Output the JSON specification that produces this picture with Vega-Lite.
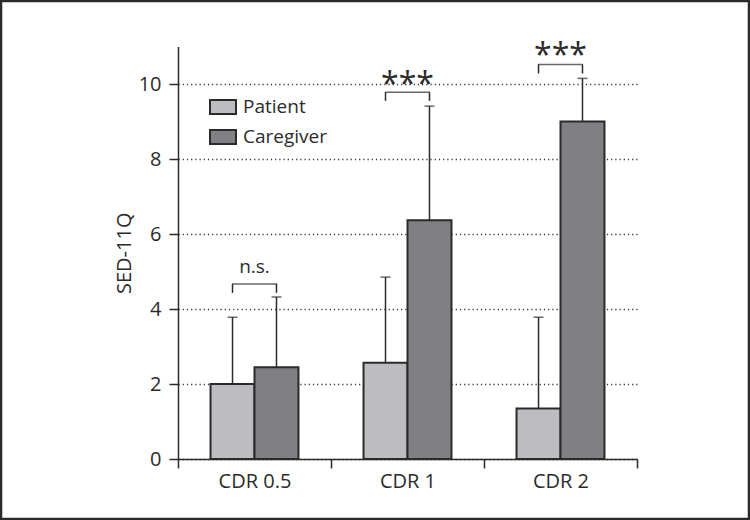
{
  "$schema": "https://vega.github.io/schema/vega-lite/v6.json",
  "width": 748,
  "height": 518,
  "autosize": {"type": "none"},
  "padding": {"left": 1, "top": 1, "right": 1, "bottom": 1},
  "background": "white",
  "config": {
    "font": "Open Sans",
    "view": {"stroke": "#2a2a2a", "strokeWidth": 2.5, "fill": "white"},
    "axis": {"labelFont": "Open Sans", "titleFont": "Open Sans", "labelColor": "#2b2b2b", "titleColor": "#2b2b2b", "titleFontWeight": "normal"}
  },
  "datasets": {
    "bars": [
      {"group": "CDR 0.5", "series": "Patient", "value": 2.0, "upper": 3.78},
      {"group": "CDR 0.5", "series": "Caregiver", "value": 2.45, "upper": 4.32},
      {"group": "CDR 1", "series": "Patient", "value": 2.57, "upper": 4.85},
      {"group": "CDR 1", "series": "Caregiver", "value": 6.37, "upper": 9.41},
      {"group": "CDR 2", "series": "Patient", "value": 1.35, "upper": 3.78},
      {"group": "CDR 2", "series": "Caregiver", "value": 9.0, "upper": 10.15}
    ],
    "sig": [
      {"group": "CDR 0.5", "label": "n.s.", "bracket": 4.67, "textY": 4.97},
      {"group": "CDR 1", "label": "***", "bracket": 9.78, "textY": 9.7},
      {"group": "CDR 2", "label": "***", "bracket": 10.52, "textY": 10.47}
    ],
    "legs": [
      {"group": "CDR 0.5", "series": "Patient", "top": 4.67, "bottom": 4.43},
      {"group": "CDR 0.5", "series": "Caregiver", "top": 4.67, "bottom": 4.43},
      {"group": "CDR 1", "series": "Patient", "top": 9.78, "bottom": 9.55},
      {"group": "CDR 1", "series": "Caregiver", "top": 9.78, "bottom": 9.55},
      {"group": "CDR 2", "series": "Patient", "top": 10.52, "bottom": 10.28},
      {"group": "CDR 2", "series": "Caregiver", "top": 10.52, "bottom": 10.28}
    ]
  },
  "layer": [
    {
      "data": {"name": "bars"},
      "mark": {"type": "bar", "stroke": "#2a2a2a", "strokeWidth": 2},
      "encoding": {
        "x": {
          "field": "group", "type": "nominal", "sort": ["CDR 0.5", "CDR 1", "CDR 2"],
          "scale": {"type": "band", "range": [177, 636], "paddingInner": 0, "paddingOuter": 0},
          "axis": {"title": null, "orient": "bottom", "offset": -60, "labelAngle": 0, "tickBand": "extent", "labelFontSize": 20, "labelPadding": 3, "tickSize": 9, "tickWidth": 1.5, "tickColor": "#2a2a2a", "domainColor": "#2a2a2a", "domainWidth": 1.5, "grid": false}
        },
        "xOffset": {
          "field": "series", "type": "nominal", "sort": ["Patient", "Caregiver"],
          "scale": {"paddingInner": 0, "paddingOuter": 0.74}
        },
        "y": {
          "field": "value", "type": "quantitative",
          "scale": {"domain": [0, 11], "range": [458, 45.5], "nice": false},
          "axis": {"title": "SED-11Q", "titleFontSize": 20, "titlePadding": 4, "offset": -177, "values": [0, 2, 4, 6, 8, 10], "labelFontSize": 20, "labelPadding": 8, "tickSize": 9, "tickWidth": 1.5, "tickColor": "#2a2a2a", "domainColor": "#2a2a2a", "domainWidth": 1.5, "grid": true, "gridDash": [1.2, 3], "gridColor": "#333333", "gridWidth": 1.3}
        },
        "color": {
          "field": "series", "type": "nominal", "sort": ["Patient", "Caregiver"],
          "scale": {"domain": ["Patient", "Caregiver"], "range": ["#bdbdc1", "#7f7f84"]},
          "legend": {"title": null, "orient": "none", "legendX": 208, "legendY": 92, "symbolType": "M-1,-0.54L1,-0.54L1,0.54L-1,0.54Z", "symbolSize": 676, "symbolStrokeColor": "#2a2a2a", "symbolStrokeWidth": 2, "symbolOpacity": 1, "labelFontSize": 19, "labelFont": "Open Sans", "labelColor": "#2b2b2b", "labelOffset": 6, "rowPadding": 4}
        }
      }
    },
    {
      "data": {"name": "bars"},
      "mark": {"type": "rule", "color": "#2a2a2a", "strokeWidth": 1.5},
      "encoding": {
        "x": {"field": "group", "type": "nominal", "sort": ["CDR 0.5", "CDR 1", "CDR 2"]},
        "xOffset": {"field": "series", "type": "nominal", "sort": ["Patient", "Caregiver"]},
        "y": {"field": "value", "type": "quantitative"},
        "y2": {"field": "upper"}
      }
    },
    {
      "data": {"name": "bars"},
      "mark": {"type": "tick", "color": "#2a2a2a", "thickness": 1.5, "size": 10, "orient": "horizontal"},
      "encoding": {
        "x": {"field": "group", "type": "nominal", "sort": ["CDR 0.5", "CDR 1", "CDR 2"]},
        "xOffset": {"field": "series", "type": "nominal", "sort": ["Patient", "Caregiver"]},
        "y": {"field": "upper", "type": "quantitative"}
      }
    },
    {
      "data": {"name": "legs"},
      "mark": {"type": "rule", "color": "#2a2a2a", "strokeWidth": 1.5},
      "encoding": {
        "x": {"field": "group", "type": "nominal", "sort": ["CDR 0.5", "CDR 1", "CDR 2"]},
        "xOffset": {"field": "series", "type": "nominal", "sort": ["Patient", "Caregiver"]},
        "y": {"field": "bottom", "type": "quantitative"},
        "y2": {"field": "top"}
      }
    },
    {
      "data": {"name": "sig"},
      "mark": {"type": "tick", "color": "#2a2a2a", "thickness": 1.5, "size": 45, "orient": "horizontal"},
      "encoding": {
        "x": {"field": "group", "type": "nominal", "sort": ["CDR 0.5", "CDR 1", "CDR 2"]},
        "y": {"field": "bracket", "type": "quantitative"}
      }
    },
    {
      "data": {"name": "sig"},
      "mark": {"type": "text", "color": "#2b2b2b", "fontSize": 20, "baseline": "alphabetic", "font": "Open Sans"},
      "encoding": {
        "x": {"field": "group", "type": "nominal", "sort": ["CDR 0.5", "CDR 1", "CDR 2"]},
        "y": {"field": "textY", "type": "quantitative"},
        "text": {"field": "label"},
        "size": {"condition": {"test": "datum.label === '***'", "value": 32}, "value": 19}
      }
    }
  ]
}
